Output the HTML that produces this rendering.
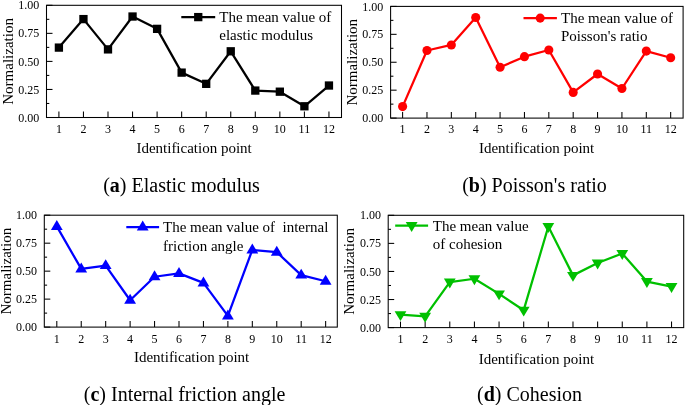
<!DOCTYPE html>
<html><head><meta charset="utf-8"><title>chart</title>
<style>
html,body{margin:0;padding:0;background:#fff;}
svg{display:block;will-change:transform;}
text{font-family:"Liberation Serif",serif;fill:#000;}
.t{font-size:12px}
.l{font-size:15px}
.c{font-size:20px}
.g{font-size:15px}
</style></head><body>
<svg width="685" height="405" viewBox="0 0 685 405">

<g id="panel-a">
<rect x="46.5" y="5.3" width="295.00" height="112.20" fill="none" stroke="#000" stroke-width="1.05"/>
<line x1="46.5" y1="117.50" x2="52.5" y2="117.50" stroke="#000" stroke-width="1.05"/>
<text class="t" x="39.20" y="121.60" text-anchor="end">0.00</text>
<line x1="46.5" y1="103.47" x2="49.3" y2="103.47" stroke="#000" stroke-width="1.05"/>
<line x1="46.5" y1="89.45" x2="52.5" y2="89.45" stroke="#000" stroke-width="1.05"/>
<text class="t" x="39.20" y="93.55" text-anchor="end">0.25</text>
<line x1="46.5" y1="75.42" x2="49.3" y2="75.42" stroke="#000" stroke-width="1.05"/>
<line x1="46.5" y1="61.40" x2="52.5" y2="61.40" stroke="#000" stroke-width="1.05"/>
<text class="t" x="39.20" y="65.50" text-anchor="end">0.50</text>
<line x1="46.5" y1="47.38" x2="49.3" y2="47.38" stroke="#000" stroke-width="1.05"/>
<line x1="46.5" y1="33.35" x2="52.5" y2="33.35" stroke="#000" stroke-width="1.05"/>
<text class="t" x="39.20" y="37.45" text-anchor="end">0.75</text>
<line x1="46.5" y1="19.33" x2="49.3" y2="19.33" stroke="#000" stroke-width="1.05"/>
<line x1="46.5" y1="5.30" x2="52.5" y2="5.30" stroke="#000" stroke-width="1.05"/>
<text class="t" x="39.20" y="9.40" text-anchor="end">1.00</text>
<line x1="58.90" y1="117.5" x2="58.90" y2="111.5" stroke="#000" stroke-width="1.05"/>
<text class="t" x="58.90" y="133.00" text-anchor="middle">1</text>
<line x1="83.45" y1="117.5" x2="83.45" y2="111.5" stroke="#000" stroke-width="1.05"/>
<text class="t" x="83.45" y="133.00" text-anchor="middle">2</text>
<line x1="108.00" y1="117.5" x2="108.00" y2="111.5" stroke="#000" stroke-width="1.05"/>
<text class="t" x="108.00" y="133.00" text-anchor="middle">3</text>
<line x1="132.55" y1="117.5" x2="132.55" y2="111.5" stroke="#000" stroke-width="1.05"/>
<text class="t" x="132.55" y="133.00" text-anchor="middle">4</text>
<line x1="157.10" y1="117.5" x2="157.10" y2="111.5" stroke="#000" stroke-width="1.05"/>
<text class="t" x="157.10" y="133.00" text-anchor="middle">5</text>
<line x1="181.65" y1="117.5" x2="181.65" y2="111.5" stroke="#000" stroke-width="1.05"/>
<text class="t" x="181.65" y="133.00" text-anchor="middle">6</text>
<line x1="206.20" y1="117.5" x2="206.20" y2="111.5" stroke="#000" stroke-width="1.05"/>
<text class="t" x="206.20" y="133.00" text-anchor="middle">7</text>
<line x1="230.75" y1="117.5" x2="230.75" y2="111.5" stroke="#000" stroke-width="1.05"/>
<text class="t" x="230.75" y="133.00" text-anchor="middle">8</text>
<line x1="255.30" y1="117.5" x2="255.30" y2="111.5" stroke="#000" stroke-width="1.05"/>
<text class="t" x="255.30" y="133.00" text-anchor="middle">9</text>
<line x1="279.85" y1="117.5" x2="279.85" y2="111.5" stroke="#000" stroke-width="1.05"/>
<text class="t" x="279.85" y="133.00" text-anchor="middle">10</text>
<line x1="304.40" y1="117.5" x2="304.40" y2="111.5" stroke="#000" stroke-width="1.05"/>
<text class="t" x="304.40" y="133.00" text-anchor="middle">11</text>
<line x1="328.95" y1="117.5" x2="328.95" y2="111.5" stroke="#000" stroke-width="1.05"/>
<text class="t" x="328.95" y="133.00" text-anchor="middle">12</text>
<text class="l" transform="translate(13,61.40) rotate(-90)" text-anchor="middle">Normalization</text>
<text class="l" x="194.10" y="152.90" text-anchor="middle">Identification point</text>
<text class="c" x="181.5" y="191.50" text-anchor="middle">(<tspan font-weight="bold">a</tspan>) Elastic modulus</text>
<polyline fill="none" stroke="#000000" stroke-width="2.25" stroke-linejoin="round" points="58.90,47.60 83.45,19.10 108.00,49.39 132.55,16.52 157.10,28.86 181.65,72.62 206.20,83.84 230.75,51.30 255.30,90.57 279.85,91.69 304.40,106.28 328.95,85.52"/>
<rect x="54.75" y="43.45" width="8.3" height="8.3" fill="#000000"/>
<rect x="79.30" y="14.95" width="8.3" height="8.3" fill="#000000"/>
<rect x="103.85" y="45.24" width="8.3" height="8.3" fill="#000000"/>
<rect x="128.40" y="12.37" width="8.3" height="8.3" fill="#000000"/>
<rect x="152.95" y="24.71" width="8.3" height="8.3" fill="#000000"/>
<rect x="177.50" y="68.47" width="8.3" height="8.3" fill="#000000"/>
<rect x="202.05" y="79.69" width="8.3" height="8.3" fill="#000000"/>
<rect x="226.60" y="47.15" width="8.3" height="8.3" fill="#000000"/>
<rect x="251.15" y="86.42" width="8.3" height="8.3" fill="#000000"/>
<rect x="275.70" y="87.54" width="8.3" height="8.3" fill="#000000"/>
<rect x="300.25" y="102.13" width="8.3" height="8.3" fill="#000000"/>
<rect x="324.80" y="81.37" width="8.3" height="8.3" fill="#000000"/>
<line x1="181.3" y1="17.1" x2="215.2" y2="17.1" stroke="#000000" stroke-width="2.25"/>
<rect x="194.10" y="12.95" width="8.3" height="8.3" fill="#000000"/>
<text class="g" x="219.3" y="22.10" xml:space="preserve">The mean value of</text>
<text class="g" x="219.3" y="40.20" xml:space="preserve">elastic modulus</text>
</g>
<g id="panel-b">
<rect x="390.6" y="6.4" width="292.50" height="111.70" fill="none" stroke="#000" stroke-width="1.05"/>
<line x1="390.6" y1="118.10" x2="396.6" y2="118.10" stroke="#000" stroke-width="1.05"/>
<text class="t" x="383.30" y="122.20" text-anchor="end">0.00</text>
<line x1="390.6" y1="104.14" x2="393.40000000000003" y2="104.14" stroke="#000" stroke-width="1.05"/>
<line x1="390.6" y1="90.17" x2="396.6" y2="90.17" stroke="#000" stroke-width="1.05"/>
<text class="t" x="383.30" y="94.27" text-anchor="end">0.25</text>
<line x1="390.6" y1="76.21" x2="393.40000000000003" y2="76.21" stroke="#000" stroke-width="1.05"/>
<line x1="390.6" y1="62.25" x2="396.6" y2="62.25" stroke="#000" stroke-width="1.05"/>
<text class="t" x="383.30" y="66.35" text-anchor="end">0.50</text>
<line x1="390.6" y1="48.29" x2="393.40000000000003" y2="48.29" stroke="#000" stroke-width="1.05"/>
<line x1="390.6" y1="34.33" x2="396.6" y2="34.33" stroke="#000" stroke-width="1.05"/>
<text class="t" x="383.30" y="38.43" text-anchor="end">0.75</text>
<line x1="390.6" y1="20.36" x2="393.40000000000003" y2="20.36" stroke="#000" stroke-width="1.05"/>
<line x1="390.6" y1="6.40" x2="396.6" y2="6.40" stroke="#000" stroke-width="1.05"/>
<text class="t" x="383.30" y="10.50" text-anchor="end">1.00</text>
<line x1="402.60" y1="118.1" x2="402.60" y2="112.1" stroke="#000" stroke-width="1.05"/>
<text class="t" x="402.60" y="133.10" text-anchor="middle">1</text>
<line x1="426.97" y1="118.1" x2="426.97" y2="112.1" stroke="#000" stroke-width="1.05"/>
<text class="t" x="426.97" y="133.10" text-anchor="middle">2</text>
<line x1="451.34" y1="118.1" x2="451.34" y2="112.1" stroke="#000" stroke-width="1.05"/>
<text class="t" x="451.34" y="133.10" text-anchor="middle">3</text>
<line x1="475.71" y1="118.1" x2="475.71" y2="112.1" stroke="#000" stroke-width="1.05"/>
<text class="t" x="475.71" y="133.10" text-anchor="middle">4</text>
<line x1="500.08" y1="118.1" x2="500.08" y2="112.1" stroke="#000" stroke-width="1.05"/>
<text class="t" x="500.08" y="133.10" text-anchor="middle">5</text>
<line x1="524.45" y1="118.1" x2="524.45" y2="112.1" stroke="#000" stroke-width="1.05"/>
<text class="t" x="524.45" y="133.10" text-anchor="middle">6</text>
<line x1="548.82" y1="118.1" x2="548.82" y2="112.1" stroke="#000" stroke-width="1.05"/>
<text class="t" x="548.82" y="133.10" text-anchor="middle">7</text>
<line x1="573.19" y1="118.1" x2="573.19" y2="112.1" stroke="#000" stroke-width="1.05"/>
<text class="t" x="573.19" y="133.10" text-anchor="middle">8</text>
<line x1="597.56" y1="118.1" x2="597.56" y2="112.1" stroke="#000" stroke-width="1.05"/>
<text class="t" x="597.56" y="133.10" text-anchor="middle">9</text>
<line x1="621.93" y1="118.1" x2="621.93" y2="112.1" stroke="#000" stroke-width="1.05"/>
<text class="t" x="621.93" y="133.10" text-anchor="middle">10</text>
<line x1="646.30" y1="118.1" x2="646.30" y2="112.1" stroke="#000" stroke-width="1.05"/>
<text class="t" x="646.30" y="133.10" text-anchor="middle">11</text>
<line x1="670.67" y1="118.1" x2="670.67" y2="112.1" stroke="#000" stroke-width="1.05"/>
<text class="t" x="670.67" y="133.10" text-anchor="middle">12</text>
<text class="l" transform="translate(356.6,62.25) rotate(-90)" text-anchor="middle">Normalization</text>
<text class="l" x="536.60" y="153.00" text-anchor="middle">Identification point</text>
<text class="c" x="534.5" y="191.50" text-anchor="middle">(<tspan font-weight="bold">b</tspan>) Poisson's ratio</text>
<polyline fill="none" stroke="#ff0000" stroke-width="2.25" stroke-linejoin="round" points="402.60,106.59 426.97,50.52 451.34,44.94 475.71,17.57 500.08,67.28 524.45,56.66 548.82,49.96 573.19,92.41 597.56,73.98 621.93,88.50 646.30,51.08 670.67,57.78"/>
<circle cx="402.60" cy="106.59" r="4.55" fill="#ff0000"/>
<circle cx="426.97" cy="50.52" r="4.55" fill="#ff0000"/>
<circle cx="451.34" cy="44.94" r="4.55" fill="#ff0000"/>
<circle cx="475.71" cy="17.57" r="4.55" fill="#ff0000"/>
<circle cx="500.08" cy="67.28" r="4.55" fill="#ff0000"/>
<circle cx="524.45" cy="56.66" r="4.55" fill="#ff0000"/>
<circle cx="548.82" cy="49.96" r="4.55" fill="#ff0000"/>
<circle cx="573.19" cy="92.41" r="4.55" fill="#ff0000"/>
<circle cx="597.56" cy="73.98" r="4.55" fill="#ff0000"/>
<circle cx="621.93" cy="88.50" r="4.55" fill="#ff0000"/>
<circle cx="646.30" cy="51.08" r="4.55" fill="#ff0000"/>
<circle cx="670.67" cy="57.78" r="4.55" fill="#ff0000"/>
<line x1="523.5" y1="18.1" x2="556.9" y2="18.1" stroke="#ff0000" stroke-width="2.25"/>
<circle cx="540.20" cy="18.10" r="4.55" fill="#ff0000"/>
<text class="g" x="561.0" y="23.30" xml:space="preserve">The mean value of</text>
<text class="g" x="561.0" y="41.20" xml:space="preserve">Poisson's ratio</text>
</g>
<g id="panel-c">
<rect x="44.3" y="215.2" width="293.00" height="111.90" fill="none" stroke="#000" stroke-width="1.05"/>
<line x1="44.3" y1="327.10" x2="50.3" y2="327.10" stroke="#000" stroke-width="1.05"/>
<text class="t" x="37.00" y="331.20" text-anchor="end">0.00</text>
<line x1="44.3" y1="313.11" x2="47.099999999999994" y2="313.11" stroke="#000" stroke-width="1.05"/>
<line x1="44.3" y1="299.12" x2="50.3" y2="299.12" stroke="#000" stroke-width="1.05"/>
<text class="t" x="37.00" y="303.23" text-anchor="end">0.25</text>
<line x1="44.3" y1="285.14" x2="47.099999999999994" y2="285.14" stroke="#000" stroke-width="1.05"/>
<line x1="44.3" y1="271.15" x2="50.3" y2="271.15" stroke="#000" stroke-width="1.05"/>
<text class="t" x="37.00" y="275.25" text-anchor="end">0.50</text>
<line x1="44.3" y1="257.16" x2="47.099999999999994" y2="257.16" stroke="#000" stroke-width="1.05"/>
<line x1="44.3" y1="243.18" x2="50.3" y2="243.18" stroke="#000" stroke-width="1.05"/>
<text class="t" x="37.00" y="247.28" text-anchor="end">0.75</text>
<line x1="44.3" y1="229.19" x2="47.099999999999994" y2="229.19" stroke="#000" stroke-width="1.05"/>
<line x1="44.3" y1="215.20" x2="50.3" y2="215.20" stroke="#000" stroke-width="1.05"/>
<text class="t" x="37.00" y="219.30" text-anchor="end">1.00</text>
<line x1="56.80" y1="327.1" x2="56.80" y2="321.1" stroke="#000" stroke-width="1.05"/>
<text class="t" x="56.80" y="342.80" text-anchor="middle">1</text>
<line x1="81.24" y1="327.1" x2="81.24" y2="321.1" stroke="#000" stroke-width="1.05"/>
<text class="t" x="81.24" y="342.80" text-anchor="middle">2</text>
<line x1="105.68" y1="327.1" x2="105.68" y2="321.1" stroke="#000" stroke-width="1.05"/>
<text class="t" x="105.68" y="342.80" text-anchor="middle">3</text>
<line x1="130.12" y1="327.1" x2="130.12" y2="321.1" stroke="#000" stroke-width="1.05"/>
<text class="t" x="130.12" y="342.80" text-anchor="middle">4</text>
<line x1="154.56" y1="327.1" x2="154.56" y2="321.1" stroke="#000" stroke-width="1.05"/>
<text class="t" x="154.56" y="342.80" text-anchor="middle">5</text>
<line x1="179.00" y1="327.1" x2="179.00" y2="321.1" stroke="#000" stroke-width="1.05"/>
<text class="t" x="179.00" y="342.80" text-anchor="middle">6</text>
<line x1="203.44" y1="327.1" x2="203.44" y2="321.1" stroke="#000" stroke-width="1.05"/>
<text class="t" x="203.44" y="342.80" text-anchor="middle">7</text>
<line x1="227.88" y1="327.1" x2="227.88" y2="321.1" stroke="#000" stroke-width="1.05"/>
<text class="t" x="227.88" y="342.80" text-anchor="middle">8</text>
<line x1="252.32" y1="327.1" x2="252.32" y2="321.1" stroke="#000" stroke-width="1.05"/>
<text class="t" x="252.32" y="342.80" text-anchor="middle">9</text>
<line x1="276.76" y1="327.1" x2="276.76" y2="321.1" stroke="#000" stroke-width="1.05"/>
<text class="t" x="276.76" y="342.80" text-anchor="middle">10</text>
<line x1="301.20" y1="327.1" x2="301.20" y2="321.1" stroke="#000" stroke-width="1.05"/>
<text class="t" x="301.20" y="342.80" text-anchor="middle">11</text>
<line x1="325.64" y1="327.1" x2="325.64" y2="321.1" stroke="#000" stroke-width="1.05"/>
<text class="t" x="325.64" y="342.80" text-anchor="middle">12</text>
<text class="l" transform="translate(10.6,271.15) rotate(-90)" text-anchor="middle">Normalization</text>
<text class="l" x="191.60" y="362.00" text-anchor="middle">Identification point</text>
<text class="c" x="184.6" y="400.90" text-anchor="middle">(<tspan font-weight="bold">c</tspan>) Internal friction angle</text>
<polyline fill="none" stroke="#0000ff" stroke-width="2.25" stroke-linejoin="round" points="56.80,226.39 81.24,268.91 105.68,265.56 130.12,300.24 154.56,276.75 179.00,273.39 203.44,282.90 227.88,315.91 252.32,249.89 276.76,252.13 301.20,275.07 325.64,281.22"/>
<path d="M56.80 219.99L62.70 229.89L50.90 229.89Z" fill="#0000ff"/>
<path d="M81.24 262.51L87.14 272.41L75.34 272.41Z" fill="#0000ff"/>
<path d="M105.68 259.16L111.58 269.06L99.78 269.06Z" fill="#0000ff"/>
<path d="M130.12 293.84L136.02 303.74L124.22 303.74Z" fill="#0000ff"/>
<path d="M154.56 270.35L160.46 280.25L148.66 280.25Z" fill="#0000ff"/>
<path d="M179.00 266.99L184.90 276.89L173.10 276.89Z" fill="#0000ff"/>
<path d="M203.44 276.50L209.34 286.40L197.54 286.40Z" fill="#0000ff"/>
<path d="M227.88 309.51L233.78 319.41L221.98 319.41Z" fill="#0000ff"/>
<path d="M252.32 243.49L258.22 253.39L246.42 253.39Z" fill="#0000ff"/>
<path d="M276.76 245.73L282.66 255.63L270.86 255.63Z" fill="#0000ff"/>
<path d="M301.20 268.67L307.10 278.57L295.30 278.57Z" fill="#0000ff"/>
<path d="M325.64 274.82L331.54 284.72L319.74 284.72Z" fill="#0000ff"/>
<line x1="126.3" y1="227" x2="159.1" y2="227" stroke="#0000ff" stroke-width="2.25"/>
<path d="M142.70 220.60L148.60 230.50L136.80 230.50Z" fill="#0000ff"/>
<text class="g" x="163.0" y="232.10" xml:space="preserve">The mean value of  internal</text>
<text class="g" x="163.0" y="250.70" xml:space="preserve">friction angle</text>
</g>
<g id="panel-d">
<rect x="388.2" y="215.3" width="295.50" height="112.30" fill="none" stroke="#000" stroke-width="1.05"/>
<line x1="388.2" y1="327.60" x2="394.2" y2="327.60" stroke="#000" stroke-width="1.05"/>
<text class="t" x="380.90" y="331.70" text-anchor="end">0.00</text>
<line x1="388.2" y1="313.56" x2="391.0" y2="313.56" stroke="#000" stroke-width="1.05"/>
<line x1="388.2" y1="299.53" x2="394.2" y2="299.53" stroke="#000" stroke-width="1.05"/>
<text class="t" x="380.90" y="303.63" text-anchor="end">0.25</text>
<line x1="388.2" y1="285.49" x2="391.0" y2="285.49" stroke="#000" stroke-width="1.05"/>
<line x1="388.2" y1="271.45" x2="394.2" y2="271.45" stroke="#000" stroke-width="1.05"/>
<text class="t" x="380.90" y="275.55" text-anchor="end">0.50</text>
<line x1="388.2" y1="257.41" x2="391.0" y2="257.41" stroke="#000" stroke-width="1.05"/>
<line x1="388.2" y1="243.38" x2="394.2" y2="243.38" stroke="#000" stroke-width="1.05"/>
<text class="t" x="380.90" y="247.47" text-anchor="end">0.75</text>
<line x1="388.2" y1="229.34" x2="391.0" y2="229.34" stroke="#000" stroke-width="1.05"/>
<line x1="388.2" y1="215.30" x2="394.2" y2="215.30" stroke="#000" stroke-width="1.05"/>
<text class="t" x="380.90" y="219.40" text-anchor="end">1.00</text>
<line x1="400.50" y1="327.6" x2="400.50" y2="321.6" stroke="#000" stroke-width="1.05"/>
<text class="t" x="400.50" y="342.60" text-anchor="middle">1</text>
<line x1="425.14" y1="327.6" x2="425.14" y2="321.6" stroke="#000" stroke-width="1.05"/>
<text class="t" x="425.14" y="342.60" text-anchor="middle">2</text>
<line x1="449.78" y1="327.6" x2="449.78" y2="321.6" stroke="#000" stroke-width="1.05"/>
<text class="t" x="449.78" y="342.60" text-anchor="middle">3</text>
<line x1="474.42" y1="327.6" x2="474.42" y2="321.6" stroke="#000" stroke-width="1.05"/>
<text class="t" x="474.42" y="342.60" text-anchor="middle">4</text>
<line x1="499.06" y1="327.6" x2="499.06" y2="321.6" stroke="#000" stroke-width="1.05"/>
<text class="t" x="499.06" y="342.60" text-anchor="middle">5</text>
<line x1="523.70" y1="327.6" x2="523.70" y2="321.6" stroke="#000" stroke-width="1.05"/>
<text class="t" x="523.70" y="342.60" text-anchor="middle">6</text>
<line x1="548.34" y1="327.6" x2="548.34" y2="321.6" stroke="#000" stroke-width="1.05"/>
<text class="t" x="548.34" y="342.60" text-anchor="middle">7</text>
<line x1="572.98" y1="327.6" x2="572.98" y2="321.6" stroke="#000" stroke-width="1.05"/>
<text class="t" x="572.98" y="342.60" text-anchor="middle">8</text>
<line x1="597.62" y1="327.6" x2="597.62" y2="321.6" stroke="#000" stroke-width="1.05"/>
<text class="t" x="597.62" y="342.60" text-anchor="middle">9</text>
<line x1="622.26" y1="327.6" x2="622.26" y2="321.6" stroke="#000" stroke-width="1.05"/>
<text class="t" x="622.26" y="342.60" text-anchor="middle">10</text>
<line x1="646.90" y1="327.6" x2="646.90" y2="321.6" stroke="#000" stroke-width="1.05"/>
<text class="t" x="646.90" y="342.60" text-anchor="middle">11</text>
<line x1="671.54" y1="327.6" x2="671.54" y2="321.6" stroke="#000" stroke-width="1.05"/>
<text class="t" x="671.54" y="342.60" text-anchor="middle">12</text>
<text class="l" transform="translate(354,271.45) rotate(-90)" text-anchor="middle">Normalization</text>
<text class="l" x="536.40" y="363.60" text-anchor="middle">Identification point</text>
<text class="c" x="529.5" y="401.00" text-anchor="middle">(<tspan font-weight="bold">d</tspan>) Cohesion</text>
<polyline fill="none" stroke="#00c000" stroke-width="2.25" stroke-linejoin="round" points="400.50,314.69 425.14,316.37 449.78,282.12 474.42,278.75 499.06,293.91 523.70,310.19 548.34,226.53 572.98,275.38 597.62,263.03 622.26,253.48 646.90,281.56 671.54,286.61"/>
<path d="M400.50 321.09L406.40 311.19L394.60 311.19Z" fill="#00c000"/>
<path d="M425.14 322.77L431.04 312.87L419.24 312.87Z" fill="#00c000"/>
<path d="M449.78 288.52L455.68 278.62L443.88 278.62Z" fill="#00c000"/>
<path d="M474.42 285.15L480.32 275.25L468.52 275.25Z" fill="#00c000"/>
<path d="M499.06 300.31L504.96 290.41L493.16 290.41Z" fill="#00c000"/>
<path d="M523.70 316.59L529.60 306.69L517.80 306.69Z" fill="#00c000"/>
<path d="M548.34 232.93L554.24 223.03L542.44 223.03Z" fill="#00c000"/>
<path d="M572.98 281.78L578.88 271.88L567.08 271.88Z" fill="#00c000"/>
<path d="M597.62 269.43L603.52 259.53L591.72 259.53Z" fill="#00c000"/>
<path d="M622.26 259.88L628.16 249.98L616.36 249.98Z" fill="#00c000"/>
<path d="M646.90 287.96L652.80 278.06L641.00 278.06Z" fill="#00c000"/>
<path d="M671.54 293.01L677.44 283.11L665.64 283.11Z" fill="#00c000"/>
<line x1="395.2" y1="225.5" x2="428.1" y2="225.5" stroke="#00c000" stroke-width="2.25"/>
<path d="M411.65 231.90L417.55 222.00L405.75 222.00Z" fill="#00c000"/>
<text class="g" x="432.8" y="230.90" xml:space="preserve">The mean value</text>
<text class="g" x="432.8" y="249.20" xml:space="preserve">of cohesion</text>
</g>
</svg></body></html>
